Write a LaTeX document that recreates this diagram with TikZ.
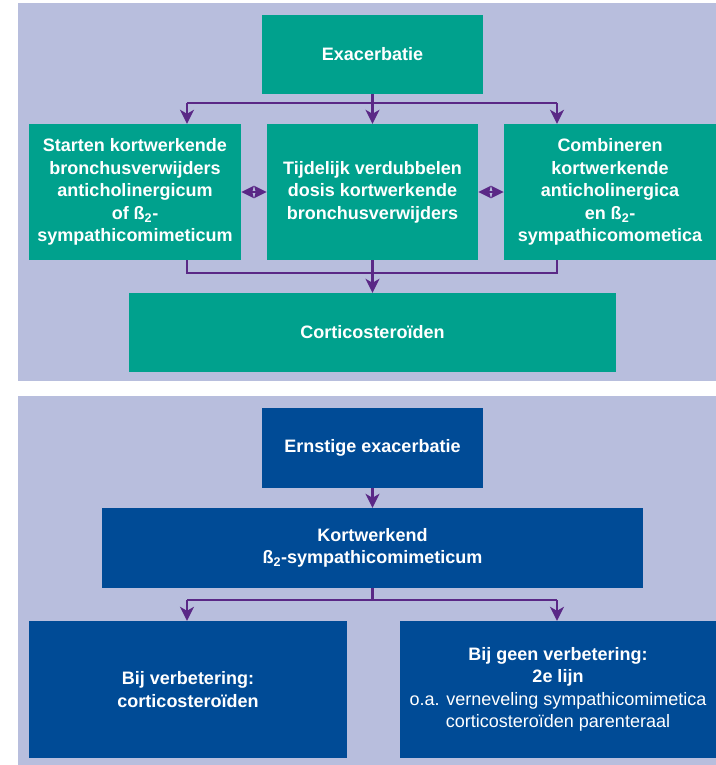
\documentclass[tikz,border=0pt]{standalone}
\usepackage{fontspec}
\setmainfont{Liberation Sans}
\usepackage{tikz}
\usetikzlibrary{positioning,arrows.meta}

\definecolor{panelbg}{RGB}{184,190,221}
\definecolor{copdgreen}{RGB}{0,161,141}
\definecolor{copdblue}{RGB}{0,75,150}
\definecolor{linkpurple}{RGB}{90,40,134}

\begin{document}
\begin{tikzpicture}[x=1pt, y=-1pt, on grid,
    box/.style={fill=#1, text=white, align=center, inner sep=0pt,
      font=\fontsize{18}{22.5}\selectfont\bfseries},
    link/.style={draw=linkpurple, line width=2.2pt},
    arr/.style={link, -{Stealth[length=14pt, width=14pt, inset=4pt]}},
    dblarr/.style={link, {Stealth[length=12.5pt, width=12pt, inset=1.5pt]}-{Stealth[length=12.5pt, width=12pt, inset=1.5pt]}}]

    \useasboundingbox (0,0) rectangle (715,765);

    % panels
    \fill[panelbg] (18,3) rectangle (716,381);
    \fill[panelbg] (18,396) rectangle (716,766);

    % exacerbatie
    \node[box=copdgreen, minimum width=221pt, minimum height=79pt] (exa) at (372.5,54.5) {Exacerbatie};
    \node[box=copdgreen, minimum width=211pt, minimum height=136pt] (mid) [below=137.5pt of exa]
        {Tijdelijk verdubbelen\\dosis kortwerkende\\bronchusverwijders};
    \node[box=copdgreen, minimum width=212pt, minimum height=136pt] (left) [left=237.5pt of mid]
        {Starten kortwerkende\\bronchusverwijders\\anticholinergicum\\of ß\textsubscript{2}-\\sympathicomimeticum};
    \node[box=copdgreen, minimum width=212pt, minimum height=136pt] (right) [right=237.5pt of mid]
        {Combineren\\kortwerkende\\anticholinergica\\en ß\textsubscript{2}-\\sympathicomometica};
    \node[box=copdgreen, minimum width=487pt, minimum height=79pt] (cort) [below=140.5pt of mid] {Corticosteroïden};

    \coordinate (fork) at (372.5,103);
    \coordinate (forkl) at (187,103);
    \coordinate (forkr) at (557,103);
    \coordinate (join) at (372.5,273);
    \coordinate (joinl) at (187,273);
    \coordinate (joinr) at (557,273);

    \draw[link] (exa) -- (fork);
    \draw[link] (forkl) -- (forkr);
    \draw[arr] (fork) -- (mid);
    \draw[arr] (forkl) -- (forkl |- left.north);
    \draw[arr] (forkr) -- (forkr |- right.north);

    \draw[link] (joinl |- left.south) -- (joinl) -- (joinr) -- (joinr |- right.south);
    \draw[link] (mid) -- (join);
    \draw[arr] (join) -- (cort);

    \draw[dblarr] (left) -- (mid);
    \draw[dblarr] (mid) -- (right);

    % ernstige exacerbatie
    \node[box=copdblue, minimum width=221pt, minimum height=80pt] (ernst) at (372.5,448) {Ernstige exacerbatie};
    \node[box=copdblue, minimum width=541pt, minimum height=80pt] (kort) [below=100pt of ernst]
        {Kortwerkend\\ß\textsubscript{2}-sympathicomimeticum};
    \node[box=copdblue, minimum width=318pt, minimum height=137pt] (bij) at (188,689.5)
        {Bij verbetering:\\corticosteroïden};
    \node[box=copdblue, minimum width=316pt, minimum height=137pt] (geen) at (558,689.5)
        {Bij geen verbetering:\\2e lijn\\\mdseries o.a. verneveling sympathicomimetica\\\mdseries corticosteroïden parenteraal};

    \coordinate (split) at (372.5,600);
    \coordinate (splitl) at (187,600);
    \coordinate (splitr) at (557,600);

    \draw[arr] (ernst) -- (kort);
    \draw[link] (kort) -- (split);
    \draw[link] (splitl) -- (splitr);
    \draw[arr] (splitl) -- (splitl |- bij.north);
    \draw[arr] (splitr) -- (splitr |- geen.north);

\end{tikzpicture}
\end{document}
